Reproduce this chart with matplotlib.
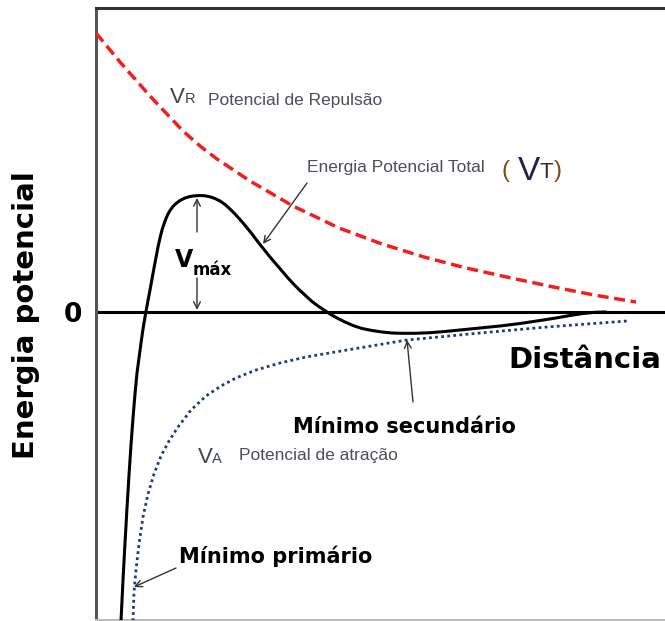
import matplotlib
matplotlib.use("Agg")
import matplotlib.pyplot as plt

# ---- data (arbitrary units: distance 0..569, energy -308..304) ----
vr_x = [0, 24, 54, 69, 87, 104, 121, 154, 197, 243, 286, 328, 370, 413, 455, 498, 540]
vr_y = [279, 250, 216, 200, 181, 166, 153, 131, 106, 84, 68, 55, 44, 34.5, 25.5, 17, 10]

vt_x = [25, 27, 29, 31, 33, 35, 37, 39, 41, 43, 45, 47, 49, 51, 52, 54, 56, 58, 60, 62, 64, 66,
        68, 70, 72, 74, 77, 80, 84, 89, 94, 99, 104, 109, 114, 119, 124, 129, 134, 139, 144,
        150, 156, 162, 168, 174, 180, 186, 192, 198, 204, 210, 216, 222, 228, 234, 241, 249,
        257, 266, 276, 286, 296, 306, 319, 334, 349, 364, 384, 404, 424, 444, 460, 474, 487,
        499, 509]
vt_y = [-309, -268, -231, -196, -163, -133, -106, -82, -61, -46, -31, -17, -5, 6, 11.5, 22,
        33, 44, 54.5, 65, 74, 82, 88, 93.5, 98, 101.5, 105.5, 108.5, 111.5, 114, 115.5, 116.2,
        116.5, 116.2, 115.2, 113.5, 111, 107.5, 103, 98, 92.5, 85.5, 78, 70, 62.5, 55, 48, 41,
        34, 27.5, 21.5, 16, 10.5, 6, 2, -2, -6, -10, -13.5, -16.5, -18.5, -20, -21, -21.3,
        -21.3, -20.7, -19.5, -18, -16, -14, -11.5, -8.5, -6, -3.5, -1.5, -0.3, 0]

va_x = [37, 38, 40, 43, 47, 52, 58, 65, 73, 82, 95, 110, 125, 140, 160, 184, 210, 251, 311,
        384, 451, 531]
va_y = [-309, -280, -258, -232, -205, -182, -162, -144, -129, -115, -98, -84, -74, -66, -58,
        -51, -45, -38, -28, -21, -15, -9]

ytick_vals = [0]
ytick_labels = ["0"]

fig = plt.figure(figsize=(6.65, 6.21), dpi=100)
ax = fig.add_axes([96/665, 1/621, 569/665, 612/621])
ax.set_xlim(0, 569)
ax.set_ylim(-308, 304)

ax.axhline(0, color="black", lw=2.2, zorder=2)
ax.plot(vr_x, vr_y, color="#f02020", lw=2.5, linestyle=(0, (3.2, 1.6)), zorder=3)
ax.plot(va_x, va_y, color="#1f3a80", lw=2.0, linestyle=(0, (1, 1.2)), zorder=3)
ax.plot(vt_x, vt_y, color="black", lw=2.2, zorder=4, solid_joinstyle="round")

ax.spines["right"].set_visible(False)
ax.spines["top"].set_color("#333333")
ax.spines["top"].set_linewidth(2.2)
ax.spines["left"].set_color("#555555")
ax.spines["left"].set_linewidth(2.2)
ax.spines["bottom"].set_color("#bbbbbb")
ax.spines["bottom"].set_linewidth(1.5)

ax.set_xticks([])
ax.set_yticks(ytick_vals)
ax.set_yticklabels(ytick_labels, fontsize=19, fontweight="bold", family="DejaVu Sans")
ax.tick_params(axis="y", length=3, direction="in", pad=10, width=1.5)

fig.text(26/665, 1-315/621, "Energia potencial", rotation=90, ha="center", va="center",
         fontsize=21, fontweight="bold", family="DejaVu Sans")

gray = "#4a4f58"
vcol = "#3c4450"
lab = dict(family="Liberation Sans", color=gray, va="baseline")
# VR label
ax.text(74, 209, "V", fontsize=16, va="baseline", color=vcol, family="Liberation Sans")
ax.text(89, 209, "R", fontsize=10.5, va="baseline", color=vcol, family="Liberation Sans")
ax.text(112, 207, "Potencial de Repulsão", fontsize=12.5, **lab)

# total energy label
ax.text(211, 140, "Energia Potencial Total", fontsize=12.5, **lab)
ax.text(406, 135, "(", fontsize=17, va="baseline", color="#7a4b12", family="Liberation Sans")
ax.text(422, 132, "V", fontsize=24, va="baseline", color="#20204a", family="Liberation Sans")
ax.text(444, 134, "T", fontsize=16, va="baseline", color="#3a2a30", family="Liberation Sans")
ax.text(458, 135, ")", fontsize=17, va="baseline", color="#7a4b12", family="Liberation Sans")

# VA label
ax.text(102, -151, "V", fontsize=16, va="baseline", color=vcol, family="Liberation Sans")
ax.text(116, -151, "A", fontsize=10.5, va="baseline", color=vcol, family="Liberation Sans")
ax.text(143, -148, "Potencial de atração", fontsize=12.5, **lab)

# Vmax
ax.text(79, 45, "V", fontsize=17, fontweight="bold", va="baseline", family="DejaVu Sans")
ax.text(97, 37, "máx", fontsize=12, fontweight="bold", va="baseline", family="DejaVu Sans")

# bold labels
ax.text(412, -56, "Distância", fontsize=21, fontweight="bold", va="baseline", family="DejaVu Sans")
ax.text(197, -121, "Mínimo secundário", fontsize=15, fontweight="bold", va="baseline",
        family="DejaVu Sans")
ax.text(83, -251, "Mínimo primário", fontsize=15, fontweight="bold", va="baseline",
        family="DejaVu Sans")

arr = dict(arrowstyle="->", lw=1.0, color="#333333", mutation_scale=12, shrinkA=0, shrinkB=0)
ax.annotate("", xy=(167, 68), xytext=(211, 129), arrowprops=arr)
ax.annotate("", xy=(101, 114), xytext=(101, 80), arrowprops=arr)
ax.annotate("", xy=(101, 2), xytext=(101, 34), arrowprops=arr)
ax.annotate("", xy=(311, -28), xytext=(317, -90), arrowprops=arr)
ax.annotate("", xy=(38, -275), xytext=(80, -256), arrowprops=arr)

fig.savefig("out.png", dpi=100)
